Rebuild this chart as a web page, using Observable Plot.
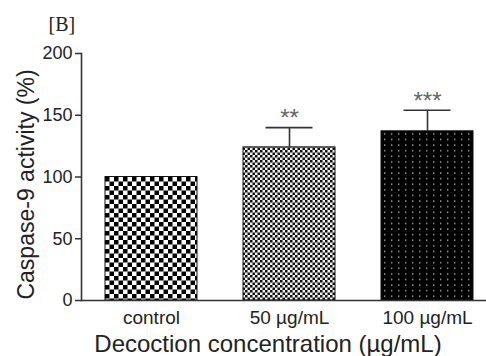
<!DOCTYPE html>
<html>
<head>
<meta charset="utf-8">
<script src="https://cdn.jsdelivr.net/npm/d3@7"></script>
<script src="https://cdn.jsdelivr.net/npm/@observablehq/plot@0.6"></script>
<style>
  html, body { margin: 0; padding: 0; background: #fff; }
  #chart svg { display: block; }
</style>
</head>
<body>
<div id="chart"></div>
<script>
const categories = ["control", "50 µg/mL", "100 µg/mL"];
const means = [100, 124, 137];
const errors = [0, 16, 17];
const stars = ["", "**", "***"];
const patterns = ["url(#pat0)", "url(#pat1)", "url(#pat2)"];
const yTicks = [0, 50, 100, 150, 200];
const panelLabel = "[B]";
const yTitle = "Caspase-9 activity (%)";
const xTitle = "Decoction concentration (µg/mL)";

const data = categories.map((c, i) => ({cat: c, mean: means[i], err: errors[i], top: means[i] + errors[i], star: stars[i], pat: patterns[i]}));
const errData = data.filter(d => d.err > 0);

const font = "'Liberation Sans', Arial, sans-serif";

const plot = Plot.plot({
  width: 486,
  height: 356,
  marginLeft: 81,
  marginRight: 0,
  marginTop: 53,
  marginBottom: 56,
  style: {fontFamily: font, color: "#222", background: "#fff"},
  x: {domain: categories, range: [81, 496], paddingInner: 1/3, paddingOuter: 1/6},
  y: {domain: [0, 200]},
  marks: [
    ...data.map(d => Plot.barY([d], {x: "cat", y: "mean", fill: d.pat, stroke: "#111", strokeWidth: 1})),
    Plot.ruleX(errData, {x: "cat", y1: "mean", y2: "top", stroke: "#333", strokeWidth: 1.6}),
    Plot.tickY(errData, {x: "cat", y: "top", stroke: "#333", strokeWidth: 1.6, insetLeft: 22.5, insetRight: 22.5}),
    Plot.text(errData, {x: "cat", y: "top", text: "star", lineAnchor: "middle", dy: -9, fontSize: 24, fill: "#666", fontFamily: font, style: "letter-spacing:2px"}),
    Plot.axisY({ticks: yTicks, tickSize: 6, tickPadding: 3, fontSize: 18, label: null, stroke: "#333", strokeWidth: 1.5}),
    Plot.axisX({tickSize: 0, tickPadding: 10, fontSize: 19, label: null}),
    Plot.frame({anchor: "left", stroke: "#333", strokeWidth: 1.6}),
    Plot.ruleY([0], {stroke: "#333", strokeWidth: 1.6}),
    Plot.text([yTitle], {frameAnchor: "left", textAnchor: "middle", lineAnchor: "middle", rotate: -90, dx: -55, dy: 7.5, fontSize: 23, fill: "#222"}),
    Plot.text([xTitle], {frameAnchor: "bottom", textAnchor: "middle", lineAnchor: "middle", dx: -16, dy: 43.5, fontSize: 24, fill: "#222"}),
    Plot.text([panelLabel], {frameAnchor: "top-left", textAnchor: "start", lineAnchor: "middle", dx: -33, dy: -29, fontSize: 20, fill: "#222", fontFamily: "'Liberation Serif', 'Times New Roman', serif"})
  ]
});

const svg = d3.select(plot);
const defs = svg.insert("defs", ":first-child");
// coarse checkerboard
const p0 = defs.append("pattern").attr("id", "pat0").attr("patternUnits", "userSpaceOnUse").attr("width", 9).attr("height", 9).attr("x", 105).attr("y", 177);
p0.append("rect").attr("width", 9).attr("height", 9).attr("fill", "#fff");
p0.append("rect").attr("width", 4.5).attr("height", 4.5).attr("fill", "#000");
p0.append("rect").attr("x", 4.5).attr("y", 4.5).attr("width", 4.5).attr("height", 4.5).attr("fill", "#000");
// fine checkerboard
const p1 = defs.append("pattern").attr("id", "pat1").attr("patternUnits", "userSpaceOnUse").attr("width", 5).attr("height", 5);
p1.append("rect").attr("width", 5).attr("height", 5).attr("fill", "#f2f2f2");
p1.append("rect").attr("width", 2.5).attr("height", 2.5).attr("fill", "#111");
p1.append("rect").attr("x", 2.5).attr("y", 2.5).attr("width", 2.5).attr("height", 2.5).attr("fill", "#111");
// black with dots
const p2 = defs.append("pattern").attr("id", "pat2").attr("patternUnits", "userSpaceOnUse").attr("width", 7).attr("height", 5.6).attr("x", 381).attr("y", 131);
p2.append("rect").attr("width", 7).attr("height", 5.6).attr("fill", "#000");
p2.append("rect").attr("x", 3).attr("y", 2.2).attr("width", 1.4).attr("height", 1.4).attr("fill", "#aaa");

document.getElementById("chart").appendChild(plot);
</script>
</body>
</html>
